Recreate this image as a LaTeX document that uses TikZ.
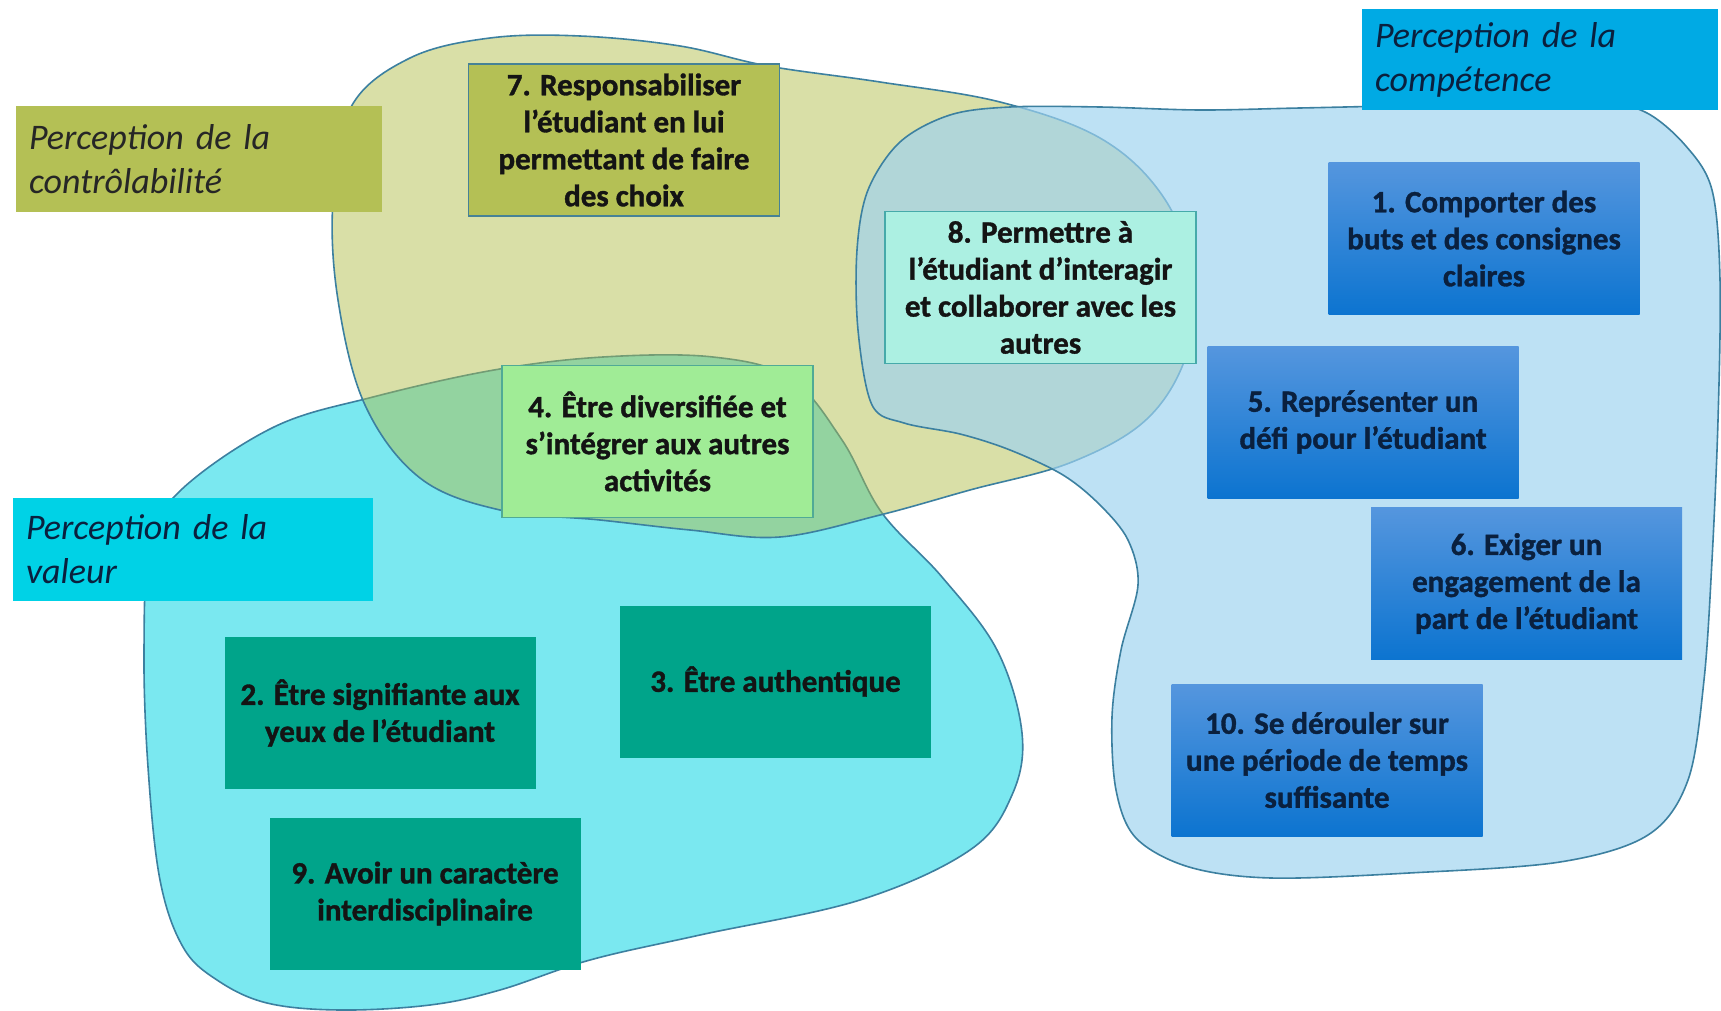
\documentclass[tikz,border=0pt]{standalone}
\usepackage{fontspec}
\setmainfont{Carlito}[BoldFeatures={FakeBold=1.2}]
\definecolor{cyanblob}{RGB}{122,232,240}
\definecolor{yelblob}{RGB}{176,189,70}
\definecolor{blueblob}{RGB}{159,211,240}
\definecolor{blobline}{RGB}{60,128,160}
\definecolor{olivebox}{RGB}{180,192,85}
\definecolor{olivebord}{RGB}{70,130,150}
\definecolor{greenbox}{RGB}{160,236,150}
\definecolor{greenbord}{RGB}{80,170,150}
\definecolor{aquabox}{RGB}{172,240,226}
\definecolor{aquabord}{RGB}{70,170,170}
\definecolor{tealbox}{RGB}{0,164,138}
\definecolor{bluetop}{RGB}{85,150,222}
\definecolor{bluebot}{RGB}{12,116,208}
\definecolor{complab}{RGB}{0,170,228}
\definecolor{vallab}{RGB}{0,210,230}
\definecolor{navytext}{RGB}{10,32,62}
\newcommand\cardfont{\bfseries\fontsize{31}{37}\selectfont}
\newcommand\labfont{\itshape\fontsize{36}{44}\selectfont}
\tikzset{
  blob/.style={draw=blobline, line width=1.6pt},
  card/.style={rectangle, minimum width=311pt, minimum height=152pt, inner sep=0pt, align=center, font=\cardfont, text=black!92},
  tealcard/.style={card, fill=tealbox},
  bluecard/.style={card, top color=bluetop, bottom color=bluebot, text=navytext},
  olivecard/.style={card, fill=olivebox, draw=olivebord, line width=1.5pt},
  greencard/.style={card, fill=greenbox, draw=greenbord, line width=1.5pt},
  aquacard/.style={card, fill=aquabox, draw=aquabord, line width=1.5pt},
  lab/.style={rectangle, inner xsep=13pt, inner ysep=0pt, align=left, font=\labfont}
}
\begin{document}
\begin{tikzpicture}[x=1pt,y=-1pt]
\useasboundingbox (0,0) rectangle (1721,1011);
\fill[white] (0,0) rectangle (1721,1011);

% valeur blob
\path[blob, fill=cyanblob] plot[smooth cycle, tension=0.6] coordinates {
(181,490) (274,427) (373,397) (494,370) (603,357) (713,357) (790,378) (842,440) (882,513) (942,577) (997,650) (1022,733) (1012,795) (970,850) (860,900) (700,935) (590,960) (500,990) (430,1005) (340,1010) (267,1003) (217,980) (183,947) (160,880) (148,767) (144,650) (150,545)};

% controlabilite blob
\path[blob, fill=yelblob, fill opacity=0.47] plot[smooth cycle, tension=0.6] coordinates {
(351,107) (410,58) (490,38) (580,36) (680,46) (768,66) (880,82) (1000,102) (1100,138) (1162,195) (1192,270) (1188,350) (1148,418) (1072,462) (970,490) (880,515) (780,537) (690,530) (600,520) (500,510) (420,478) (365,405) (338,300) (333,200)};

% competence blob
\path[blob, fill=blueblob, fill opacity=0.68] plot[smooth cycle, tension=0.55] coordinates {
(1010,107) (1100,107) (1200,110) (1300,108) (1450,105) (1600,105) (1645,112) (1685,145) (1712,190) (1720,280) (1718,420) (1712,560) (1704,680) (1688,780) (1648,835) (1560,862) (1409,873) (1271,878) (1189,867) (1136,838) (1116,790) (1112,717) (1121,650) (1138,585) (1128,540) (1100,505) (1063,475) (1010,450) (960,434) (904,423) (872,405) (858,330) (857,250) (868,190) (900,142) (950,115)};

% labels
\node[lab, fill=olivebox, minimum height=106pt, text width=340pt, text=black!85] (lctrl) at (199,159) {Perception de la\\contrôlabilité};
\node[lab, fill=complab, minimum height=101pt, text width=330pt, text=navytext] (lcomp) at (1540,59.5) {Perception de la\\compétence};
\node[lab, fill=vallab, minimum height=103pt, text width=334pt, text=navytext] (lval) at (193,549.5) {Perception de la\\valeur};

% cards
\node[olivecard] (b7) at (624,140) {7. Responsabiliser\\l’étudiant en lui\\permettant de faire\\des choix};
\node[greencard] (b4) at (657.5,441.5) {4. Être diversifiée et\\s’intégrer aux autres\\activités};
\node[aquacard] (b8) at (1040.5,287.5) {8. Permettre à\\l’étudiant d’interagir\\et collaborer avec les\\autres};
\node[bluecard] (b1) at (1484,238.5) {1. Comporter des\\buts et des consignes\\claires};
\node[bluecard] (b5) at (1363,422) {5. Représenter un\\défi pour l’étudiant};
\node[bluecard] (b6) at (1526.5,583.5) {6. Exiger un\\engagement de la\\part de l’étudiant};
\node[bluecard] (b10) at (1327,760) {10. Se dérouler sur\\une période de temps\\suffisante};
\node[tealcard] (b2) at (380,713) {2. Être signifiante aux\\yeux de l’étudiant};
\node[tealcard] (b3) at (775.5,681.5) {3. Être authentique};
\node[tealcard] (b9) at (425,893.5) {9. Avoir un caractère\\interdisciplinaire};
\end{tikzpicture}
\end{document}
